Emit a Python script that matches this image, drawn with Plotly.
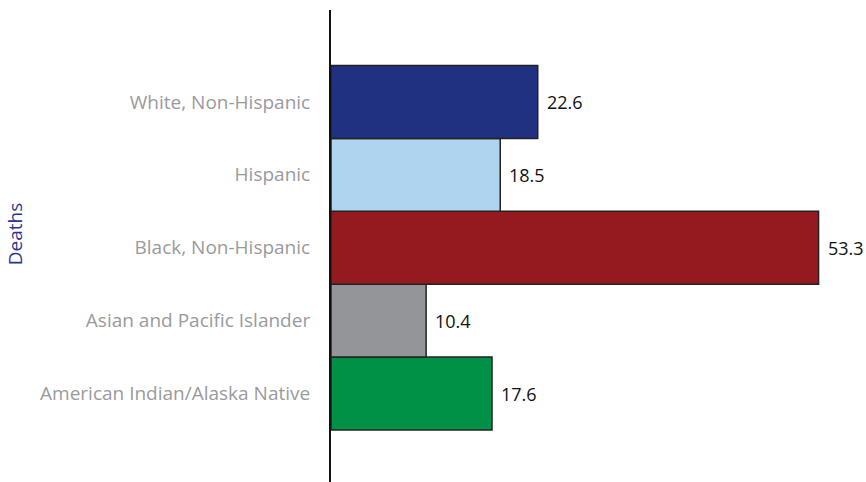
import plotly.graph_objects as go

categories = ["White, Non-Hispanic", "Hispanic", "Black, Non-Hispanic",
              "Asian and Pacific Islander", "American Indian/Alaska Native"]
values = [22.6, 18.5, 53.3, 10.4, 17.6]
colors = ["#203181", "#aed4ef", "#951a1f", "#939598", "#009046"]
value_labels = ["22.6", "18.5", "53.3", "10.4", "17.6"]
axis_title = "Deaths"

cats_bottom_up = categories[::-1]
vals_bottom_up = values[::-1]
cols_bottom_up = colors[::-1]
labels_bottom_up = value_labels[::-1]

fig = go.Figure(go.Bar(
    y=cats_bottom_up, x=vals_bottom_up, orientation="h",
    marker=dict(color=cols_bottom_up, line=dict(color="#222222", width=1.5)),
    hoverinfo="skip",
))

annotations = [dict(
    x=v, y=c, xref="x", yref="y", text=t, showarrow=False,
    xanchor="left", yanchor="middle", xshift=7,
    font=dict(family="Open Sans", size=18, color="#111111"),
) for v, c, t in zip(vals_bottom_up, cats_bottom_up, labels_bottom_up)]

annotations.append(dict(
    text=axis_title, xref="paper", yref="paper", x=0, y=0.525,
    xshift=-331, xanchor="left", yanchor="middle", textangle=-90,
    showarrow=False, font=dict(family="Open Sans", size=19, color="#2b3590"),
))

fig.update_layout(
    width=866, height=482,
    margin=dict(l=331, r=22, t=10, b=0),
    paper_bgcolor="white", plot_bgcolor="white",
    bargap=0, showlegend=False,
    xaxis=dict(range=[0, 56.08], visible=False, fixedrange=True),
    yaxis=dict(
        type="category", categoryorder="array", categoryarray=cats_bottom_up,
        range=[-1.213, 5.261], showline=True, linecolor="#111111", linewidth=2,
        showgrid=False, zeroline=False, ticks="", ticklabelstandoff=15,
        tickfont=dict(family="Open Sans", size=19, color="#9a9a9c"),
        automargin=False, fixedrange=True,
    ),
    annotations=annotations,
)

fig.write_html(
    "out.html",
    config={"displayModeBar": False, "staticPlot": True},
    post_script="document.body.style.margin='0';document.body.style.overflow='hidden';",
)
